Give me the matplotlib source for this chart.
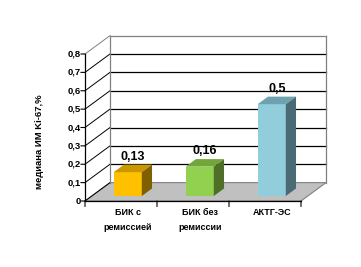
import matplotlib
matplotlib.use("Agg")
import matplotlib.pyplot as plt
from matplotlib.patches import Polygon

plt.rcParams["font.family"] = ["Liberation Sans", "DejaVu Sans"]
plt.rcParams["font.weight"] = "bold"

categories = ["БИК с\nремиссией", "БИК без\nремиссии", "АКТГ-ЭС"]
values = [0.13, 0.16, 0.5]
value_labels = ["0,13", "0,16", "0,5"]
yticks = [0.0, 0.1, 0.2, 0.3, 0.4, 0.5, 0.6, 0.7, 0.8]
ytick_labels = ["0", "0,1", "0,2", "0,3", "0,4", "0,5", "0,6", "0,7", "0,8"]
ylabel = "медиана ИМ Ki-67,%"

face_colors = ["#FFC000", "#92D050", "#92CDDC"]
top_colors = ["#C99800", "#72A63A", "#6FA2B0"]
side_colors = ["#7F6000", "#4F6F28", "#4A6A74"]

# oblique depth offset (x in category units, y in value units)
DX, DY = 0.347, 0.10
D0, D1 = 0.27, 0.68   # bar depth span
BW = 0.39             # bar width
YMAX = 0.8
N = len(categories)


def P(x, v, d):
    return (x + d * DX, v + d * DY)


fig = plt.figure(figsize=(3.61, 2.67), dpi=100)
ax = fig.add_axes([0, 0, 1, 1])
ax.set_xlim(-85 / 72, (361 - 85) / 72)
ax.set_ylim((201 - 267) / 183.75, 201 / 183.75)
ax.axis("off")

grey = "#808080"

# floor
ax.add_patch(Polygon([P(0, 0, 0), P(N, 0, 0), P(N, 0, 1), P(0, 0, 1)],
                     closed=True, fc="#C0C0C0", ec=grey, lw=0.8, zorder=1))

# back wall gridlines and left wall diagonals
for v in yticks:
    col = grey if v == YMAX else "black"
    if v > 0:
        ax.plot(*zip(P(0, v, 1), P(N, v, 1)), color=col, lw=0.9, zorder=1)
    ax.plot(*zip(P(0, v, 0), P(0, v, 1)), color=col, lw=0.7, zorder=1)
ax.plot(*zip(P(0, 0, 1), P(0, YMAX, 1)), color=grey, lw=0.9, zorder=1)
ax.plot(*zip(P(N, 0, 1), P(N, YMAX, 1)), color=grey, lw=0.9, zorder=1)

# front value axis
ax.plot(*zip(P(0, 0, 0), P(0, YMAX, 0)), color="black", lw=0.9, zorder=3)
for v, lab in zip(yticks, ytick_labels):
    ax.annotate("", xy=P(0, v, 0), xytext=(-3, 0), textcoords="offset points",
                arrowprops=dict(arrowstyle="-", color="black", lw=0.8,
                                shrinkA=0, shrinkB=0))
    ax.annotate(lab, xy=P(0, v, 0), xytext=(-3, 0), textcoords="offset points",
                ha="right", va="center", fontsize=6.8, fontweight="bold")

# front category axis
ax.plot(*zip(P(0, 0, 0), P(N, 0, 0)), color="black", lw=0.9, zorder=3)
for i in range(N + 1):
    ax.annotate("", xy=P(i, 0, 0), xytext=(0, -4), textcoords="offset points",
                arrowprops=dict(arrowstyle="-", color="black", lw=0.8,
                                shrinkA=0, shrinkB=0))

# bars
for i, (val, lab, cat) in enumerate(zip(values, value_labels, categories)):
    x0 = i + 0.5 - BW / 2
    x1 = i + 0.5 + BW / 2
    front = [P(x0, 0, D0), P(x1, 0, D0), P(x1, val, D0), P(x0, val, D0)]
    top = [P(x0, val, D0), P(x1, val, D0), P(x1, val, D1), P(x0, val, D1)]
    side = [P(x1, 0, D0), P(x1, 0, D1), P(x1, val, D1), P(x1, val, D0)]
    ax.add_patch(Polygon(front, closed=True, fc=face_colors[i], ec="none", zorder=4))
    ax.add_patch(Polygon(top, closed=True, fc=top_colors[i], ec="none", zorder=4))
    ax.add_patch(Polygon(side, closed=True, fc=side_colors[i], ec="none", zorder=4))

    cx, cy = P(i + 0.5, val, (D0 + D1) / 2)
    ax.annotate(lab, xy=(cx, cy), xytext=(0, 4), textcoords="offset points",
                ha="center", va="bottom", fontsize=9, fontweight="bold", zorder=5)

    bx, by = P(i + 0.5, 0, D0)
    ax.annotate(cat, xy=(bx, P(0, 0, 0)[1]), xytext=(0, -5),
                textcoords="offset points", ha="center", va="top",
                fontsize=6.5, fontweight="bold", linespacing=1.8)

# y label
ax.text(-85 / 72 + 40 / 72, (201 - 142) / 183.75, ylabel, rotation=90,
        ha="center", va="center", fontsize=6.8, fontweight="bold")

fig.savefig("out.png", dpi=100)
